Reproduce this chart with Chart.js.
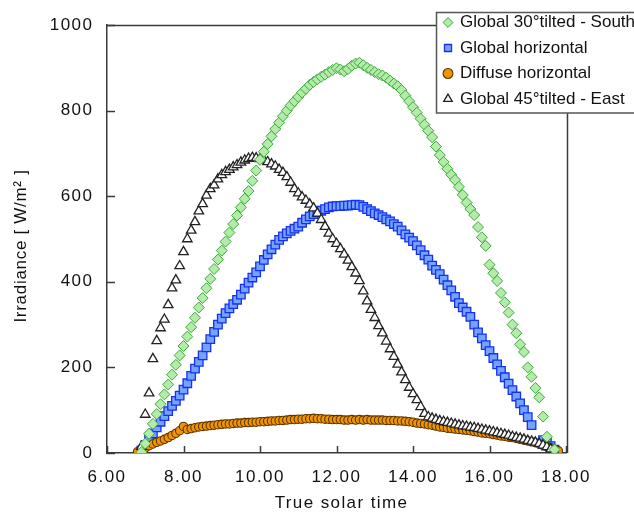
<!DOCTYPE html>
<html>
<head>
<meta charset="utf-8">
<script src="https://cdn.jsdelivr.net/npm/chart.js@4/dist/chart.umd.min.js"></script>
<style>
  html, body { margin: 0; padding: 0; background: #ffffff; }
  #wrap { width: 634px; height: 515px; }
</style>
</head>
<body>
<div id="wrap"><canvas id="c" width="634" height="515"></canvas></div>
<script>
// ---------- DATA ----------
// True solar time (hours), one entry per sample
const times = [
  6.8, 6.9, 7.0, 7.1, 7.2, 7.3, 7.4, 7.5, 7.6, 7.7,
  7.8, 7.9, 8.0, 8.1, 8.2, 8.3, 8.4, 8.5, 8.6, 8.7,
  8.8, 8.9, 9.0, 9.1, 9.2, 9.3, 9.4, 9.5, 9.6, 9.7,
  9.8, 9.9, 10.0, 10.1, 10.2, 10.3, 10.4, 10.5, 10.6, 10.7,
  10.8, 10.9, 11.0, 11.1, 11.2, 11.3, 11.4, 11.5, 11.6, 11.7,
  11.8, 11.9, 12.0, 12.1, 12.2, 12.3, 12.4, 12.5, 12.6, 12.7,
  12.8, 12.9, 13.0, 13.1, 13.2, 13.3, 13.4, 13.5, 13.6, 13.7,
  13.8, 13.9, 14.0, 14.1, 14.2, 14.3, 14.4, 14.5, 14.6, 14.7,
  14.8, 14.9, 15.0, 15.1, 15.2, 15.3, 15.4, 15.5, 15.6, 15.7,
  15.8, 15.9, 16.0, 16.1, 16.2, 16.3, 16.4, 16.5, 16.6, 16.7,
  16.8, 16.9, 17.0, 17.1, 17.2, 17.3, 17.4, 17.5, 17.6, 17.7,
  17.8
];

// Global 30° tilted - South  (W/m²)
const globalTiltedSouth = [
  null, 2, 22, 45, 68, 91, 114, 137, 160, 183,
  206, 228, 250, 272, 294, 316, 340, 362, 385, 407,
  430, 452, 473, 494, 515, 535, 555, 574, 594, 612,
  636, 660, 685, 704, 722, 740, 757, 772, 787, 800,
  812, 822, 832, 842, 851, 860, 867, 873, 879, 884,
  890, 895, 899, 896, 892, 897, 905, 910, 912, 906,
  900, 895, 890, 885, 882, 877, 870, 863, 857, 848,
  835, 822, 808, 795, 781, 767, 753, 738, 716, 696,
  680, 664, 650, 638, 622, 603, 585, 570, 556, 528,
  504, 484, 440, 420, 402, 374, 352, 328, 300, 280,
  254, 236, 200, 178, 152, 130, 85, 38, null, 8,
  null
];

// Global horizontal
const globalHorizontal = [
  null, 6, 18, 32, 46, 60, 73, 86, 98, 110,
  122, 134, 148, 163, 180, 197, 213, 228, 247, 266,
  283, 300, 314, 327, 338, 348, 358, 370, 384, 398,
  410, 422, 436, 451, 464, 476, 487, 498, 506, 513,
  519, 524, 529, 538, 546, 553, 558, 562, 566, 570,
  574, 576, 577, 577, 578, 578, 579, 580, 579, 575,
  570, 565, 560, 556, 551, 546, 541, 535, 529, 520,
  511, 503, 495, 485, 474, 462, 452, 438, 428, 418,
  405, 392, 380, 365, 350, 340, 330, 318, 300, 282,
  268, 252, 238, 222, 207, 192, 177, 162, 147, 132,
  116, 100, 84, 65, null, null, 30, 24, 16, 8,
  null
];

// Diffuse horizontal
const diffuseHorizontal = [
  3, 8, 12, 17, 21, 25, 28, 32, 36, 41,
  46, 52, 62, 55, 57, 59, 61, 62, 63, 64,
  65, 66, 67, 68, 68, 69, 70, 70, 71, 71,
  72, 72, 73, 73, 74, 75, 75, 76, 76, 77,
  78, 78, 79, 79, 80, 80, 81, 80, 80, 79,
  79, 78, 78, 78, 77, 77, 78, 77, 78, 77,
  78, 77, 77, 77, 77, 76, 76, 76, 75, 75,
  74, 73, 72, 70, 69, 68, 66, 65, 63, 61,
  60, 58, 57, 56, 55, 54, 53, 52, 50, 49,
  47, 46, 45, 43, 42, 40, 39, 37, 36, 34,
  32, 30, 28, 26, 24, 21, 18, 15, 12, 8,
  5
];

// Global 45° tilted - East
const globalTiltedEast = [
  null, 15, 90, 140, 220, 262, 292, 312, 346, 385,
  404, 437, 470, 500, 520, 540, 565, 582, 602, 617,
  626, 640, 650, 657, 662, 668, 673, 679, 684, 688,
  690, 689, 687, 684, 680, 675, 670, 662, 655, 645,
  632, 617, 607, 598, 590, 581, 572, 560, 545, 529,
  513, 500, 489, 477, 464, 450, 435, 420, 402, 378,
  355, 335, 316, 297, 280, 261, 243, 225, 207, 189,
  171, 153, 138, 124, 108, 92, 84, 81, 78, 75,
  73, 71, 69, 67, 65, 63, 62, 60, 59, 57,
  55, 53, 51, 49, 47, 45, 43, 41, 38, 36,
  34, 32, 29, 27, 25, 22, 18, 14, 9, 3,
  null
];

const seriesLabels = [
  'Global 30°tilted - South',
  'Global horizontal',
  'Diffuse horizontal',
  'Global 45°tilted - East'
];

const xTickValues = [6, 8, 10, 12, 14, 16, 18];
const yTickValues = [0, 200, 400, 600, 800, 1000];

// ---------- helpers ----------
function toPoints(vals) {
  const pts = [];
  vals.forEach((v, i) => { if (v !== null) pts.push({ x: times[i], y: v }); });
  return pts;
}

const AXIS_COLOR = '#3a3a3a';
const TEXT_COLOR = '#111111';
const FONT_FAMILY = "'Liberation Sans', Arial, Helvetica, sans-serif";

function wrapTitle(scale, spacing, dx, dy) {
  if (scale._wrappedTitle) return;
  const orig = scale.drawTitle;
  scale.drawTitle = function (...args) {
    const c = this.ctx;
    c.save();
    c.letterSpacing = spacing;
    c.translate(dx, dy);
    orig.apply(this, args);
    c.restore();
  };
  scale._wrappedTitle = true;
}

const framePlugin = {
  id: 'framePlugin',
  afterLayout(chart) {
    const lg = chart.legend;
    if (lg) {
      lg.left = 436; lg.top = 5.5; lg.right = 760; lg.bottom = 220;
      lg.width = lg.right - lg.left; lg.height = lg.bottom - lg.top;
      if (!lg._wrappedDraw) {
        const orig = lg.draw;
        lg.draw = function (...args) {
          const c = this.ctx;
          c.save();
          c.letterSpacing = '0px';
          orig.apply(this, args);
          c.restore();
        };
        lg._wrappedDraw = true;
      }
    }
    wrapTitle(chart.scales.y, '0.7px', 0, 7);
    wrapTitle(chart.scales.x, '1.4px', 5, 1);
  },
  beforeDraw(chart) {
    const { ctx, chartArea: a } = chart;
    const xs = chart.scales.x, ys = chart.scales.y;
    ctx.save();
    ctx.strokeStyle = AXIS_COLOR;
    ctx.lineWidth = 1.5;
    // top + right frame
    ctx.beginPath();
    ctx.moveTo(a.left, a.top + 0.5);
    ctx.lineTo(a.right + 1.5, a.top + 0.5);
    ctx.lineTo(a.right + 1.5, a.bottom);
    ctx.stroke();
    // inward tick marks
    ctx.beginPath();
    xTickValues.forEach(v => {
      const px = Math.round(xs.getPixelForValue(v)) + 0.5;
      ctx.moveTo(px, a.bottom); ctx.lineTo(px, a.bottom - 7);
    });
    yTickValues.forEach(v => {
      const py = Math.round(ys.getPixelForValue(v)) + 0.5;
      ctx.moveTo(a.left, py); ctx.lineTo(a.left + 8, py);
    });
    ctx.stroke();
    // legend frame (open to the right, runs off the canvas)
    ctx.fillStyle = '#ffffff';
    ctx.fillRect(436, 12, 220, 101);
    ctx.strokeStyle = '#555555';
    ctx.lineWidth = 1.5;
    ctx.strokeRect(436.5, 12.5, 220, 100.5);
    ctx.restore();
    ctx.letterSpacing = '1.5px';
  },
  afterDraw(chart) {
    chart.ctx.letterSpacing = '0px';
  }
};

const tickFont = { family: FONT_FAMILY, size: 17 };

new Chart(document.getElementById('c'), {
  type: 'scatter',
  plugins: [framePlugin],
  data: {
    datasets: [
      {
        label: seriesLabels[0],
        data: toPoints(globalTiltedSouth),
        pointStyle: 'rectRot',
        pointRadius: 5.5,
        backgroundColor: '#b2eca8',
        borderColor: '#3aaa3a',
        borderWidth: 1,
        order: 0
      },
      {
        label: seriesLabels[1],
        data: toPoints(globalHorizontal),
        pointStyle: 'rect',
        pointRadius: 6,
        backgroundColor: '#74a4ff',
        borderColor: '#1530f0',
        borderWidth: 1.3,
        order: 3
      },
      {
        label: seriesLabels[2],
        data: toPoints(diffuseHorizontal),
        pointStyle: 'circle',
        pointRadius: 4.2,
        backgroundColor: '#f09400',
        borderColor: '#5c3300',
        borderWidth: 1.1,
        order: 2
      },
      {
        label: seriesLabels[3],
        data: toPoints(globalTiltedEast),
        pointStyle: 'triangle',
        pointRadius: 5.5,
        backgroundColor: '#ffffff',
        borderColor: '#222222',
        borderWidth: 1.3,
        order: 1
      }
    ]
  },
  options: {
    responsive: false,
    devicePixelRatio: 1,
    animation: false,
    events: [],
    layout: { padding: { left: 0, top: 25, right: 68, bottom: 0 } },
    plugins: {
      tooltip: { enabled: false },
      legend: {
        display: true,
        position: 'chartArea',
        align: 'start',
        labels: {
          usePointStyle: true,
          boxWidth: 7,
          boxHeight: 7,
          padding: 8.5,
          color: TEXT_COLOR,
          font: { family: FONT_FAMILY, size: 17 },
          sort: (a, b) => a.datasetIndex - b.datasetIndex
        }
      }
    },
    scales: {
      x: {
        type: 'linear',
        min: 6,
        max: 18,
        grid: { display: false, drawTicks: false },
        border: { display: true, color: AXIS_COLOR, width: 1.5 },
        ticks: {
          stepSize: 2,
          autoSkip: false,
          maxRotation: 0,
          padding: 14.5,
          color: TEXT_COLOR,
          font: tickFont,
          callback: v => Number(v).toFixed(2)
        },
        title: {
          display: true,
          text: 'True solar time',
          color: TEXT_COLOR,
          font: { family: FONT_FAMILY, size: 17 },
          padding: { top: 0, bottom: 2 }
        },
        afterFit: s => { s.height = 62; }
      },
      y: {
        type: 'linear',
        min: 0,
        max: 1000,
        grid: { display: false, drawTicks: false },
        border: { display: true, color: AXIS_COLOR, width: 1.5 },
        ticks: {
          stepSize: 200,
          padding: 13.5,
          color: TEXT_COLOR,
          font: tickFont,
          callback: v => String(v)
        },
        title: {
          display: true,
          text: 'Irradiance [ W/m² ]',
          color: TEXT_COLOR,
          font: { family: FONT_FAMILY, size: 17 },
          padding: { top: 11, bottom: 0 }
        },
        afterFit: s => { s.width = 107; }
      }
    }
  }
});
</script>
</body>
</html>
